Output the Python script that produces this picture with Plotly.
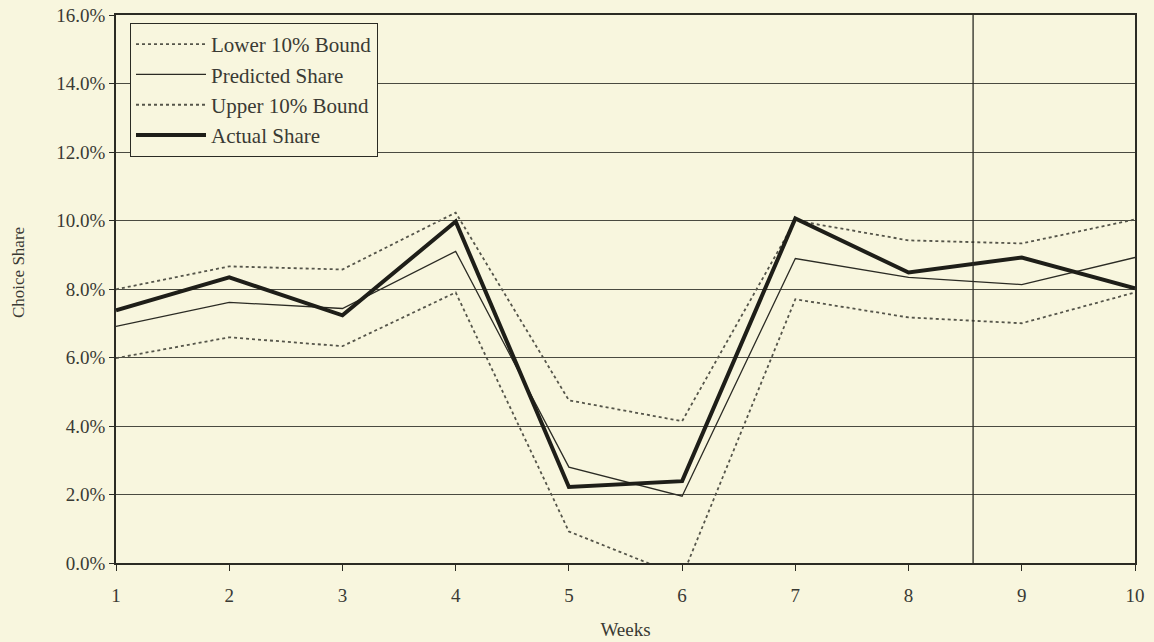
import plotly.graph_objects as go

weeks = [1, 2, 3, 4, 5, 6, 7, 8, 9, 10]
lower_bound = [5.98, 6.59, 6.33, 7.90, 0.92, -0.40, 7.70, 7.17, 7.00, 7.90]
predicted = [6.91, 7.61, 7.43, 9.10, 2.80, 1.95, 8.89, 8.34, 8.13, 8.92]
upper_bound = [7.99, 8.66, 8.57, 10.23, 4.75, 4.14, 10.00, 9.42, 9.33, 10.03]
actual = [7.38, 8.34, 7.23, 9.97, 2.22, 2.39, 10.06, 8.48, 8.92, 8.02]
y_ticks = [0, 2, 4, 6, 8, 10, 12, 14, 16]
y_tick_labels = ["0.0%", "2.0%", "4.0%", "6.0%", "8.0%", "10.0%", "12.0%", "14.0%", "16.0%"]
divider_week = 8.57

BG = "#f8f6de"
INK = "#2b2b24"
GRID = "#4a4a40"
TXT = "#3a3a34"
FONT = "Liberation Serif"

ML, MR, MT, MB = 116, 19, 15, 79
PW = 1154 - ML - MR
PH = 642 - MT - MB

fig = go.Figure()
fig.add_trace(go.Scatter(x=weeks, y=lower_bound, mode="lines", name="Lower 10% Bound",
                         legendgroup="a",
                         line=dict(color="#55554a", width=1.8, dash="dot")))
fig.add_trace(go.Scatter(x=weeks, y=predicted, mode="lines", name="Predicted Share",
                         legendgroup="b",
                         line=dict(color=INK, width=1.3)))
fig.add_trace(go.Scatter(x=weeks, y=upper_bound, mode="lines", name="Upper 10% Bound",
                         legendgroup="c",
                         line=dict(color="#55554a", width=1.8, dash="dot")))
fig.add_trace(go.Scatter(x=weeks, y=actual, mode="lines", name="Actual Share",
                         legendgroup="d",
                         line=dict(color="#1e1e18", width=4)))

fig.add_shape(type="line", xref="x", yref="paper", x0=divider_week, x1=divider_week,
              y0=0, y1=1, line=dict(color=INK, width=1.3))

fig.add_annotation(text="Choice Share", textangle=-90, showarrow=False,
                   xref="paper", yref="paper",
                   x=(18 - ML) / PW, y=(563 - 273) / PH,
                   xanchor="center", yanchor="middle",
                   font=dict(family=FONT, size=17, color=TXT))

fig.update_layout(
    width=1154, height=642,
    paper_bgcolor=BG, plot_bgcolor=BG,
    margin=dict(l=ML, r=MR, t=MT, b=MB, autoexpand=False),
    font=dict(family=FONT, size=20, color=TXT),
    showlegend=True,
    legend=dict(x=(130 - ML) / PW, y=1 - (23 - MT) / PH, xanchor="left", yanchor="top",
                bgcolor=BG, bordercolor=INK, borderwidth=1,
                font=dict(family=FONT, size=21, color=TXT),
                tracegroupgap=0, itemwidth=70),
    xaxis=dict(range=[1, 10], tickmode="array", tickvals=weeks,
               ticks="outside", ticklen=6, tickcolor=INK,
               ticklabelstandoff=8, automargin=False,
               showgrid=False, zeroline=False,
               showline=True, linecolor=INK, linewidth=1.5, mirror=True,
               title=dict(text="Weeks", font=dict(family=FONT, size=19), standoff=18),
               tickfont=dict(family=FONT, size=19)),
    yaxis=dict(range=[0, 16], tickmode="array", tickvals=y_ticks, ticktext=y_tick_labels,
               ticks="outside", ticklen=5, tickcolor=INK, automargin=False,
               showgrid=True, gridcolor=GRID, gridwidth=1, zeroline=False,
               showline=True, linecolor=INK, linewidth=1.5, mirror=True,
               tickfont=dict(family=FONT, size=19)),
)

fig.write_html(
    "out.html",
    config={"displayModeBar": False},
    post_script="document.body.style.margin='0';document.body.style.background='#f8f6de';"
                "document.body.style.overflow='hidden';",
)
